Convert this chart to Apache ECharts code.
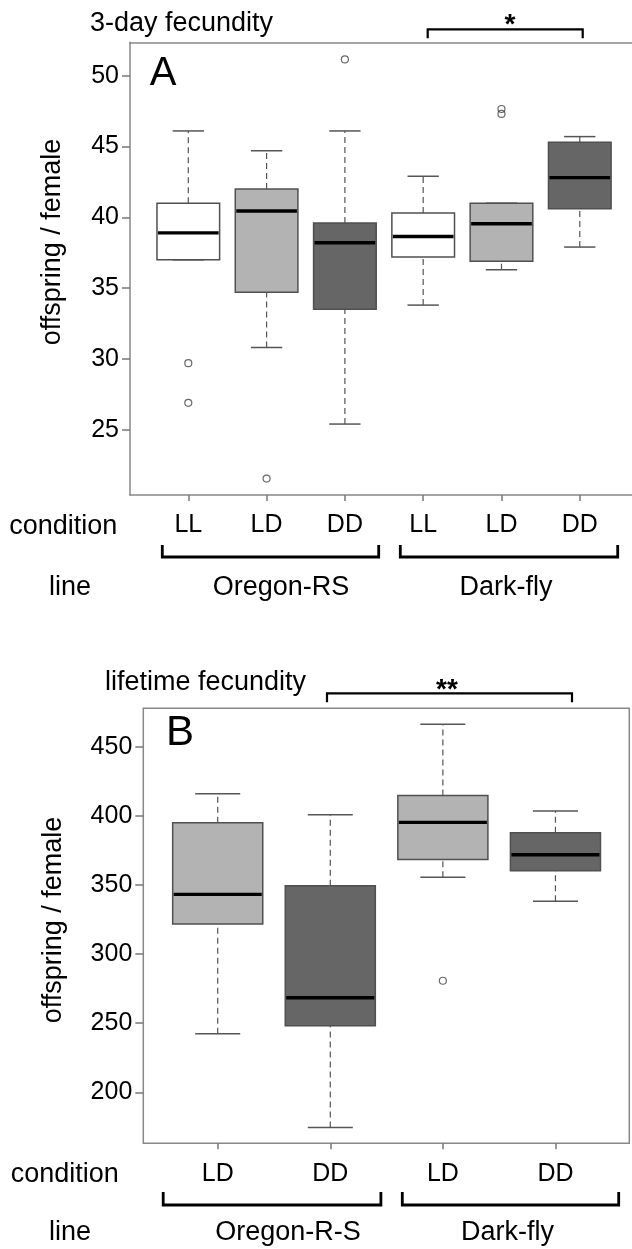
<!DOCTYPE html>
<html>
<head>
<meta charset="utf-8">
<script src="https://cdn.jsdelivr.net/npm/echarts@6/dist/echarts.min.js"></script>
<style>html,body{margin:0;padding:0;background:#fff;}#c{width:632px;height:1249px;}</style>
</head>
<body>
<div id="c"></div>
<script>
// ---------- Panel A: 3-day fecundity ----------
const conditionsA = ['LL', 'LD', 'DD', 'LL', 'LD', 'DD'];
const positionsA = [1, 2, 3, 4, 5, 6];
const minA    = [37.0, 30.8, 25.4, 33.8, 36.3, 37.9];
const q1A     = [37.0, 34.7, 33.5, 37.2, 36.9, 40.6];
const medianA = [38.9, 40.45, 38.2, 38.65, 39.55, 42.8];
const q3A     = [41.0, 42.0, 39.6, 40.3, 41.0, 45.3];
const maxA    = [46.1, 44.7, 46.1, 42.9, 41.0, 45.7];
const outliersA = [[1, 29.7], [1, 26.9], [2, 21.55], [3, 51.15], [5, 47.65], [5, 47.3]];
const yTicksA = [25, 30, 35, 40, 45, 50];
const linesA = ['Oregon-RS', 'Dark-fly'];

// ---------- Panel B: lifetime fecundity ----------
const conditionsB = ['LD', 'DD', 'LD', 'DD'];
const positionsB = [1, 2, 3, 4];
const minB    = [242.3, 174.6, 355.5, 338.3];
const q1B     = [321.7, 248.1, 368.5, 360.3];
const medianB = [343.2, 268.4, 395.3, 371.9];
const q3B     = [395.0, 349.4, 414.8, 387.8];
const maxB    = [416.0, 400.8, 466.2, 403.5];
const outliersB = [[3, 280.7]];
const yTicksB = [200, 250, 300, 350, 400, 450];
const linesB = ['Oregon-R-S', 'Dark-fly'];

const FONT = 'Liberation Sans, Arial, Helvetica, sans-serif';
const FS = 25;   // tick labels
const FW = 27;   // word labels
const FRAME = '#888';
const fillFor = { LL: '#ffffff', LD: '#b3b3b3', DD: '#666666' };

function boxData(pos, mn, q1, md, q3, mx) {
  return pos.map((p, i) => [p, mn[i], q1[i], md[i], q3[i], mx[i]]);
}

function makeRender(conds) {
  return function (params, api) {
    const x = api.value(0);
    const pMin = api.coord([x, api.value(1)]);
    const pQ1 = api.coord([x, api.value(2)]);
    const pMed = api.coord([x, api.value(3)]);
    const pQ3 = api.coord([x, api.value(4)]);
    const pMax = api.coord([x, api.value(5)]);
    const unit = api.size([1, 0])[0];
    const bw = unit * 0.8, cw = unit * 0.4;
    const cx = pMed[0];
    const fill = fillFor[conds[params.dataIndex]];
    const dashStyle = { stroke: '#555', lineWidth: 1.2, lineDash: [6, 4] };
    const capStyle = { stroke: '#555', lineWidth: 1.5 };
    return {
      type: 'group',
      children: [
        { type: 'line', shape: { x1: cx, y1: pQ3[1], x2: cx, y2: pMax[1] }, style: dashStyle },
        { type: 'line', shape: { x1: cx, y1: pMin[1], x2: cx, y2: pQ1[1] }, style: dashStyle },
        { type: 'line', shape: { x1: cx - cw / 2, y1: pMax[1], x2: cx + cw / 2, y2: pMax[1] }, style: capStyle },
        { type: 'line', shape: { x1: cx - cw / 2, y1: pMin[1], x2: cx + cw / 2, y2: pMin[1] }, style: capStyle },
        { type: 'rect', shape: { x: cx - bw / 2, y: pQ3[1], width: bw, height: pQ1[1] - pQ3[1] },
          style: { fill: fill, stroke: '#505050', lineWidth: 1.5 } },
        { type: 'line', shape: { x1: cx - bw / 2 + 1, y1: pMed[1], x2: cx + bw / 2 - 1, y2: pMed[1] },
          style: { stroke: '#000', lineWidth: 3.4 } }
      ]
    };
  };
}

function xAxisCfg(idx, min, max, pos, conds, showLine) {
  return {
    type: 'value', gridIndex: idx, min: min, max: max, position: 'bottom',
    axisLine: { show: !!showLine, onZero: false, lineStyle: { color: FRAME, width: 1.5 } },
    splitLine: { show: false },
    axisTick: { show: true, length: 6, customValues: pos, lineStyle: { color: '#777', width: 1.5 } },
    axisLabel: { show: true, customValues: pos, margin: 18,
      formatter: v => conds[Math.round(v) - 1],
      color: '#000', fontSize: FS, fontFamily: FONT }
  };
}

function yAxisCfg(idx, min, max, ticks, showLine) {
  return {
    type: 'value', gridIndex: idx, min: min, max: max,
    axisLine: { show: !!showLine, onZero: false, lineStyle: { color: FRAME, width: 1.5 } },
    splitLine: { show: false },
    axisTick: { show: true, length: 8, customValues: ticks, lineStyle: { color: '#777', width: 1.5 } },
    axisLabel: { show: true, customValues: ticks, margin: 11,
      color: '#000', fontSize: FS, fontFamily: FONT }
  };
}

function txtStyle(x, y, s, size, align, rot, weight) {
  const o = {
    type: 'text', x: x, y: y,
    style: { text: s, fill: '#000', fontSize: size, fontFamily: FONT, fontWeight: weight || 'normal',
      align: align || 'center', verticalAlign: 'middle' }
  };
  if (rot) o.rotation = rot;
  return o;
}
function bracketDown(x1, x2, yTop, yBot, w) {
  return { type: 'polyline', shape: { points: [[x1, yTop], [x1, yBot], [x2, yBot], [x2, yTop]] },
    style: { stroke: '#000', lineWidth: w || 2.8, fill: null } };
}
function bracketUp(x1, x2, yLine, yEnd, w) {
  return { type: 'polyline', shape: { points: [[x1, yEnd], [x1, yLine], [x2, yLine], [x2, yEnd]] },
    style: { stroke: '#000', lineWidth: w || 2.2, fill: null } };
}

const chart = echarts.init(document.getElementById('c'), null, { renderer: 'canvas' });
chart.setOption({
  animation: false,
  backgroundColor: '#fff',
  grid: [
    { left: 130, top: 42.3, width: 502, height: 452.7, show: false },
    { left: 143.3, top: 708.3, width: 486, height: 435, show: true, borderColor: FRAME, borderWidth: 1.5, backgroundColor: 'transparent' }
  ],
  xAxis: [
    xAxisCfg(0, 0.2554, 6.667, positionsA, conditionsA, true),
    xAxisCfg(1, 0.339, 4.656, positionsB, conditionsB, false),
    { type: 'value', gridIndex: 0, position: 'top', min: 0.2554, max: 6.667,
      axisLine: { show: true, onZero: false, lineStyle: { color: FRAME, width: 1.5 } },
      axisTick: { show: false }, axisLabel: { show: false }, splitLine: { show: false } }
  ],
  yAxis: [
    yAxisCfg(0, 20.39, 52.36, yTicksA, true),
    yAxisCfg(1, 163.1, 477.8, yTicksB, false)
  ],
  series: [
    { type: 'custom', xAxisIndex: 0, yAxisIndex: 0, renderItem: makeRender(conditionsA),
      encode: { x: 0, y: [1, 2, 3, 4, 5] }, data: boxData(positionsA, minA, q1A, medianA, q3A, maxA), clip: false },
    { type: 'scatter', xAxisIndex: 0, yAxisIndex: 0, data: outliersA, symbol: 'circle', symbolSize: 7,
      itemStyle: { color: 'rgba(0,0,0,0)', borderColor: '#444', borderWidth: 1.2 } },
    { type: 'custom', xAxisIndex: 1, yAxisIndex: 1, renderItem: makeRender(conditionsB),
      encode: { x: 0, y: [1, 2, 3, 4, 5] }, data: boxData(positionsB, minB, q1B, medianB, q3B, maxB), clip: false },
    { type: 'scatter', xAxisIndex: 1, yAxisIndex: 1, data: outliersB, symbol: 'circle', symbolSize: 7,
      itemStyle: { color: 'rgba(0,0,0,0)', borderColor: '#444', borderWidth: 1.2 } }
  ],
  graphic: [
    // Panel A annotations
    txtStyle(90, 23.5, '3-day fecundity', FW, 'left'),
    txtStyle(163, 74, 'A', 40),
    bracketUp(427.7, 582.7, 29.3, 38.3),
    txtStyle(510, 25, '*', 28, 'center', 0, 'bold'),
    txtStyle(53, 242, 'offspring / female', FW, 'center', Math.PI / 2),
    txtStyle(63.3, 527, 'condition', FW),
    bracketDown(162.3, 378.7, 545, 557),
    bracketDown(400.3, 617.7, 545, 557),
    txtStyle(70, 588, 'line', FW),
    txtStyle(281, 588, linesA[0], FW),
    txtStyle(506, 588, linesA[1], FW),
    // Panel B annotations
    txtStyle(105, 683, 'lifetime fecundity', FW, 'left'),
    txtStyle(180, 733, 'B', 42),
    bracketUp(327, 572, 693.3, 702.3),
    txtStyle(447, 690, '**', 28, 'center', 0, 'bold'),
    txtStyle(54, 920, 'offspring / female', FW, 'center', Math.PI / 2),
    txtStyle(64.8, 1175, 'condition', FW),
    bracketDown(163.2, 380.9, 1192, 1205),
    bracketDown(402.3, 618.7, 1192, 1205),
    txtStyle(70, 1233, 'line', FW),
    txtStyle(288, 1233, linesB[0], FW),
    txtStyle(507.5, 1233, linesB[1], FW)
  ]
});
</script>
</body>
</html>
